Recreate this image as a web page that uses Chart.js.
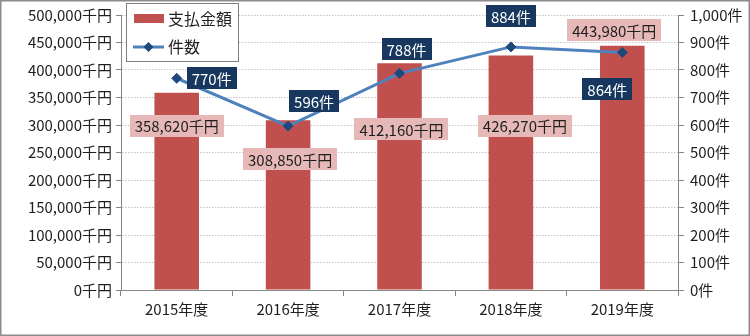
<!DOCTYPE html>
<html>
<head>
<meta charset="utf-8">
<script src="https://cdn.jsdelivr.net/npm/chart.js@4"></script>
<style>
  body { margin: 0; background: #fff; }
  #wrap { width: 750px; height: 336px; }
</style>
</head>
<body>
<div id="wrap"><canvas id="myChart" width="750" height="336"></canvas></div>
<script>
const ctx = document.getElementById('myChart');

// data
const years = ['2015年度', '2016年度', '2017年度', '2018年度', '2019年度'];
const payments = [358620, 308850, 412160, 426270, 443980]; // 千円
const counts = [770, 596, 788, 884, 864]; // 件

// label placement (offset from each mark, px)
const payLabelOffsets = [[0, 33], [2, 39], [2, 66], [14, 70], [-8, -16]];
const countLabelOffsets = [[35, 0], [26, -25], [7, -24], [0, -31], [-15, 37]];

const FONT = '"Noto Sans CJK JP", "Noto Sans", sans-serif';
const TEXT = '#1f1f1f';

function fmt(n) {
  return n.toLocaleString('en-US');
}

// white background + outer frame
const frame = {
  id: 'frame',
  beforeDraw(chart) {
    const c = chart.ctx;
    c.save();
    c.fillStyle = '#fff';
    c.fillRect(0, 0, chart.width, chart.height);
    c.restore();
  },
  afterDraw(chart) {
    const c = chart.ctx;
    c.save();
    c.strokeStyle = '#8c8c8c';
    c.lineWidth = 1.5;
    c.strokeRect(0.75, 0.75, chart.width - 1.5, chart.height - 1.5);
    c.restore();
  }
};

function drawBox(c, cx, cy, text, bg, fg) {
  c.font = '15px ' + FONT;
  const w = c.measureText(text).width + 10;
  const h = 22;
  c.fillStyle = bg;
  c.fillRect(Math.round(cx - w / 2), Math.round(cy - h / 2), Math.round(w), h);
  c.fillStyle = fg;
  c.textAlign = 'center';
  c.textBaseline = 'middle';
  c.fillText(text, cx, cy + 1);
}

// data labels
const labels = {
  id: 'labels',
  afterDatasetsDraw(chart) {
    const c = chart.ctx;
    c.save();
    const bars = chart.getDatasetMeta(1).data;
    bars.forEach((el, i) => {
      const o = payLabelOffsets[i];
      drawBox(c, el.x + o[0], el.y + o[1], fmt(payments[i]) + '千円', '#e6b9b8', TEXT);
    });
    const pts = chart.getDatasetMeta(0).data;
    pts.forEach((el, i) => {
      const o = countLabelOffsets[i];
      drawBox(c, el.x + o[0], el.y + o[1], counts[i] + '件', '#17375e', '#fff');
    });
    c.restore();
  }
};

// legend box in the top-left of the plot
const legendBox = {
  id: 'legendBox',
  afterDraw(chart) {
    const c = chart.ctx;
    const x = chart.chartArea.left + 5, y = 3;
    c.save();
    c.fillStyle = '#fff';
    c.fillRect(x, y, 112, 58);
    c.strokeStyle = '#7f7f7f';
    c.lineWidth = 1;
    c.strokeRect(x + 0.5, y + 0.5, 112, 58);
    // bar swatch
    c.fillStyle = '#c0504d';
    c.fillRect(x + 8, y + 11, 30, 9);
    // line swatch
    c.strokeStyle = '#4f81bd';
    c.lineWidth = 3;
    c.beginPath();
    c.moveTo(x + 7, y + 44);
    c.lineTo(x + 38, y + 44);
    c.stroke();
    c.fillStyle = '#1f497d';
    c.beginPath();
    c.moveTo(x + 22.5, y + 39);
    c.lineTo(x + 27.5, y + 44);
    c.lineTo(x + 22.5, y + 49);
    c.lineTo(x + 17.5, y + 44);
    c.closePath();
    c.fill();
    c.fillStyle = TEXT;
    c.font = '16px ' + FONT;
    c.textAlign = 'left';
    c.textBaseline = 'middle';
    c.fillText('支払金額', x + 42, y + 16);
    c.fillText('件数', x + 42, y + 44);
    c.restore();
  }
};

const myChart = new Chart(ctx, {
  data: {
    labels: years,
    datasets: [{
      type: 'line',
      label: '件数',
      data: counts,
      yAxisID: 'y1',
      borderColor: '#4f81bd',
      borderWidth: 3,
      pointStyle: 'rectRot',
      pointRadius: 5,
      pointBackgroundColor: '#1f497d',
      pointBorderColor: '#1f497d',
      pointBorderWidth: 1,
      tension: 0,
      order: 0
    }, {
      type: 'bar',
      label: '支払金額',
      data: payments,
      yAxisID: 'y',
      backgroundColor: '#c0504d',
      categoryPercentage: 0.4,
      barPercentage: 1,
      order: 1
    }]
  },
  options: {
    responsive: false,
    animation: false,
    layout: { padding: { top: 15, left: 0, right: 0, bottom: 0 } },
    plugins: {
      legend: { display: false },
      tooltip: { enabled: false }
    },
    scales: {
      x: {
        offset: true,
        grid: { offset: true, drawOnChartArea: false, tickLength: 6, color: '#868686' },
        border: { color: '#868686' },
        ticks: { color: TEXT, font: { family: FONT, size: 15 }, padding: 4 },
        afterFit(s) { s.height = 46; }
      },
      y: {
        position: 'left',
        min: 0, max: 500000,
        ticks: { stepSize: 50000, color: TEXT, font: { family: FONT, size: 15 }, padding: 4,
          callback: v => fmt(v) + '千円' },
        grid: { color: '#c4c4c4', tickColor: '#868686', tickLength: 5, tickBorderDash: [] },
        border: { color: '#868686', dash: [1.5, 1.5] },
        afterFit(s) { s.width = 121; }
      },
      y1: {
        position: 'right',
        min: 0, max: 1000,
        ticks: { stepSize: 100, color: TEXT, font: { family: FONT, size: 15 }, padding: 6,
          callback: v => fmt(v) + '件' },
        grid: { drawOnChartArea: false, color: '#868686', tickLength: 6 },
        border: { color: '#868686' },
        afterFit(s) { s.width = 72; }
      }
    }
  },
  plugins: [frame, labels, legendBox]
});
</script>
</body>
</html>
